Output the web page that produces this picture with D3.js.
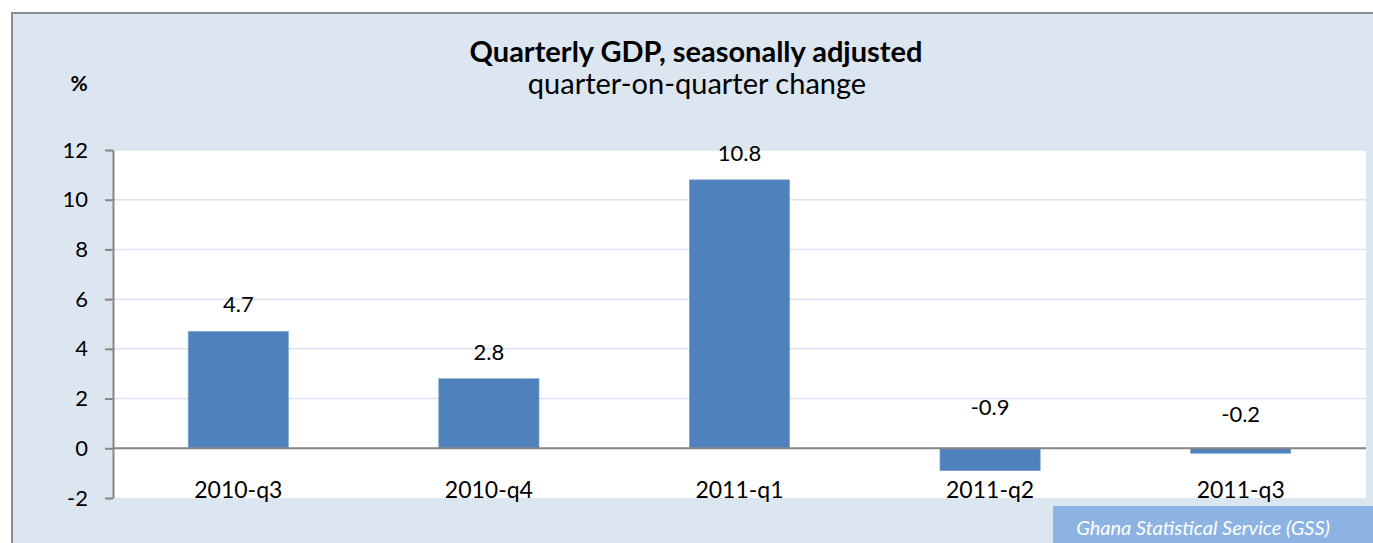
<!DOCTYPE html>
<html>
<head>
<meta charset="utf-8">
<script src="https://cdn.jsdelivr.net/npm/d3@7"></script>
<style>
  body { margin: 0; background: #fff; }
  text { font-family: Lato, "Open Sans", sans-serif; fill: #000; }
</style>
</head>
<body>
<div id="chart"></div>
<script>
// data
var quarters = ["2010-q3", "2010-q4", "2011-q1", "2011-q2", "2011-q3"];
var growth = [4.7, 2.8, 10.8, -0.9, -0.2];
var yTicks = [-2, 0, 2, 4, 6, 8, 10, 12];

var W = 1373, H = 543;
var plot = { left: 113, right: 1366, top: 150, bottom: 498 };

var svg = d3.select("#chart").append("svg")
    .attr("width", W)
    .attr("height", H);

// outer chart frame
svg.append("rect")
    .attr("x", 12).attr("y", 13)
    .attr("width", W + 10).attr("height", H + 10)
    .attr("fill", "#dce6f1")
    .attr("stroke", "#8c8c8c")
    .attr("stroke-width", 2);

// plot area
svg.append("rect")
    .attr("x", plot.left).attr("y", plot.top)
    .attr("width", plot.right - plot.left)
    .attr("height", plot.bottom - plot.top)
    .attr("fill", "#fff");

var x = d3.scaleBand()
    .domain(quarters)
    .range([plot.left, plot.right])
    .paddingInner(0.6)
    .paddingOuter(0.3);

var y = d3.scaleLinear()
    .domain([-2, 12])
    .range([plot.bottom, plot.top]);

// gridlines
svg.append("g")
    .selectAll("line")
    .data(yTicks.filter(function (d) { return d > -2; }))
    .enter().append("line")
    .attr("x1", plot.left).attr("x2", plot.right)
    .attr("y1", function (d) { return y(d); })
    .attr("y2", function (d) { return y(d); })
    .attr("stroke", "#dae4f0")
    .attr("stroke-width", 1.5);

// bars
svg.append("g")
    .selectAll("rect")
    .data(growth)
    .enter().append("rect")
    .attr("x", function (d, i) { return x(quarters[i]); })
    .attr("y", function (d) { return y(Math.max(d, 0)); })
    .attr("width", x.bandwidth())
    .attr("height", function (d) { return Math.abs(y(d) - y(0)); })
    .attr("fill", "#4f81bd")
    .attr("stroke", "#7fa3d0")
    .attr("stroke-width", 0.6);

// zero line
svg.append("line")
    .attr("x1", plot.left).attr("x2", plot.right)
    .attr("y1", y(0)).attr("y2", y(0))
    .attr("stroke", "#868686")
    .attr("stroke-width", 2);

// y axis (plain hyphen for negatives, like the original)
var yAxis = svg.append("g")
    .attr("transform", "translate(" + plot.left + ",0)")
    .call(d3.axisLeft(y).tickValues(yTicks).tickFormat(function (d) { return String(d); })
        .tickSize(8).tickPadding(17).tickSizeOuter(0));
yAxis.select(".domain").attr("stroke", "#868686").attr("stroke-width", 2);
yAxis.selectAll(".tick line").attr("stroke", "#868686").attr("stroke-width", 2);
yAxis.selectAll(".tick text")
    .style("font-family", "Lato, sans-serif")
    .style("font-size", "22px")
    .attr("fill", "#000");

// category labels
svg.append("g")
    .selectAll("text")
    .data(quarters)
    .enter().append("text")
    .attr("x", function (d) { return x(d) + x.bandwidth() / 2; })
    .attr("y", y(0) + 50)
    .attr("text-anchor", "middle")
    .style("font-size", "23px")
    .text(function (d) { return d; });

// value labels
svg.append("g")
    .selectAll("text")
    .data(growth)
    .enter().append("text")
    .attr("x", function (d, i) { return x(quarters[i]) + x.bandwidth() / 2; })
    .attr("y", function (d) {
        if (d >= 0) return y(d) - 19;
        return y(0) - 24 - 0.4 * (y(d) - y(0));
    })
    .attr("text-anchor", "middle")
    .style("font-size", "22px")
    .text(function (d) { return d.toFixed(1); });

// titles
svg.append("text")
    .attr("x", 696).attr("y", 62)
    .attr("text-anchor", "middle")
    .style("font-size", "29px")
    .style("font-weight", "bold")
    .text("Quarterly GDP, seasonally adjusted");

svg.append("text")
    .attr("x", 697).attr("y", 94)
    .attr("text-anchor", "middle")
    .style("font-size", "29px")
    .text("quarter-on-quarter change");

svg.append("text")
    .attr("x", 79).attr("y", 91)
    .attr("text-anchor", "middle")
    .style("font-size", "21px")
    .style("font-weight", "bold")
    .text("%");

// source box
svg.append("rect")
    .attr("x", 1053).attr("y", 506)
    .attr("width", W - 1053).attr("height", H - 506)
    .attr("fill", "#8db3e2");

svg.append("text")
    .attr("x", 1203).attr("y", 535)
    .attr("text-anchor", "middle")
    .style("font-size", "20px")
    .style("font-style", "italic")
    .style("fill", "#fff")
    .text("Ghana Statistical Service (GSS)");
</script>
</body>
</html>
